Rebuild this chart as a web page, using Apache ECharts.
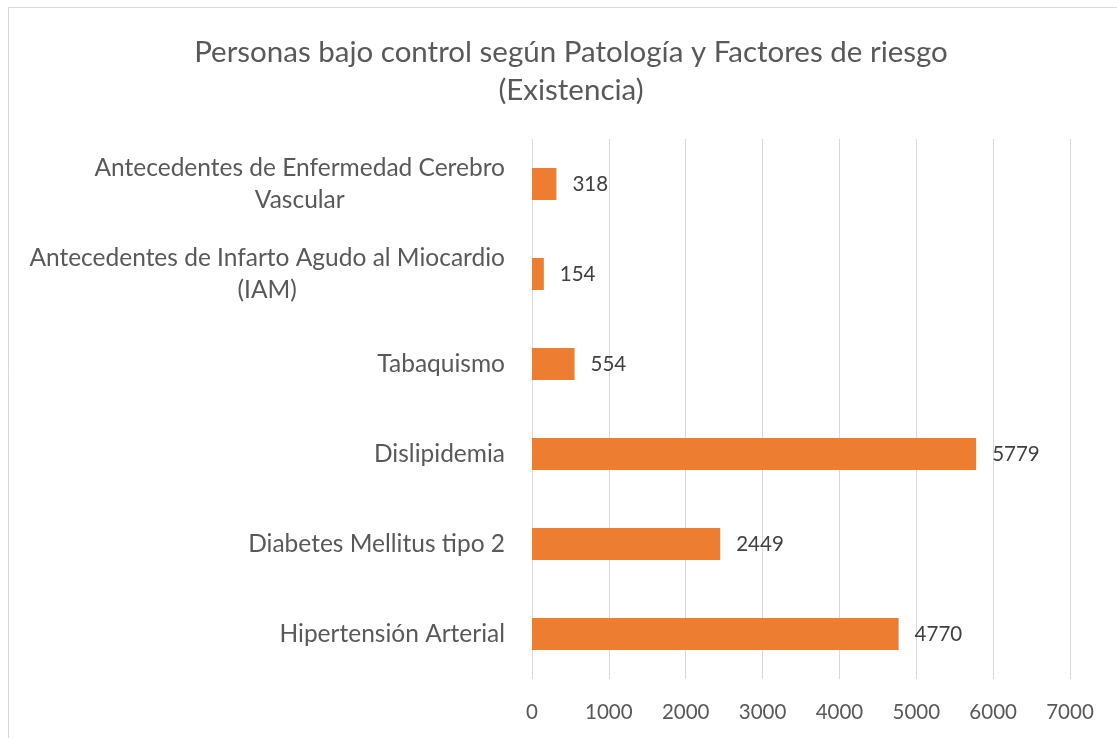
<html>
<head>
    <meta charset='utf-8' />
    <script src="https://cdn.jsdelivr.net/npm/echarts@6/dist/echarts.min.js"></script>
    <title>Personas bajo control</title>
    <style>
        body { margin: 0; overflow: hidden; background: #fff; }
        #chart { width: 1117px; height: 738px; }
    </style>
</head>
<body>
    <div id="chart"></div>
    <script type="text/javascript">
        // bottom to top, as ECharts lists categories on a vertical axis
        var categories = [
            'Hipertensión Arterial',
            'Diabetes Mellitus tipo 2',
            'Dislipidemia',
            'Tabaquismo',
            'Antecedentes de Infarto Agudo al Miocardio\n(IAM)',
            'Antecedentes de Enfermedad Cerebro\nVascular'
        ];
        var values = [4770, 2449, 5779, 554, 154, 318];
        var xTicks = [0, 7000, 1000]; // min, max, step

        var font = 'Lato, "Open Sans", sans-serif';
        var labelStyle = { fontFamily: font, fontSize: 24.5, color: '#595959', lineHeight: 32 };
        var chart = echarts.init(document.getElementById('chart'));
        var option = {
            backgroundColor: '#fff',
            graphic: [{
                type: 'rect',
                shape: { x: 8.5, y: 7.5, width: 1130, height: 760 },
                style: { fill: 'none', stroke: '#d9d9d9', lineWidth: 1 },
                silent: true
            }],
            title: {
                text: 'Personas bajo control según Patología y Factores de riesgo\n(Existencia)',
                left: 566,
                top: 28,
                textAlign: 'center',
                textStyle: {
                    fontFamily: font,
                    fontSize: 29.5,
                    fontWeight: 'normal',
                    color: '#595959',
                    lineHeight: 38
                }
            },
            grid: {
                left: 532,
                right: 47,
                top: 139,
                bottom: 59,
                containLabel: false
            },
            xAxis: {
                type: 'value',
                min: xTicks[0],
                max: xTicks[1],
                interval: xTicks[2],
                axisLine: { show: false },
                axisTick: { show: false },
                axisLabel: {
                    fontFamily: font,
                    fontSize: 20.5,
                    color: '#595959',
                    margin: 23,
                    formatter: function (v) { return String(v); }
                },
                splitLine: { lineStyle: { color: '#d9d9d9', width: 1 } }
            },
            yAxis: {
                type: 'category',
                data: categories,
                axisLine: { show: false },
                axisTick: { show: false },
                axisLabel: {
                    margin: 27,
                    align: 'right',
                    fontFamily: font,
                    fontSize: 24.5,
                    color: '#595959',
                    lineHeight: 32,
                    formatter: function (v) {
                        var parts = v.split('\n');
                        if (parts.length < 2) return '{a|' + v + '}';
                        return '{a|' + parts[0] + '}\n{c|' + parts[1] + '}';
                    },
                    rich: {
                        a: Object.assign({ align: 'right' }, labelStyle),
                        c: Object.assign({ align: 'center' }, labelStyle)
                    }
                }
            },
            series: [{
                type: 'bar',
                data: values,
                barWidth: 32,
                itemStyle: { color: '#ed7d31' },
                label: {
                    show: true,
                    position: 'right',
                    distance: 16,
                    fontFamily: font,
                    fontSize: 20.5,
                    color: '#404040'
                },
                silent: true
            }]
        };
        chart.setOption(option);
    </script>
</body>
</html>
